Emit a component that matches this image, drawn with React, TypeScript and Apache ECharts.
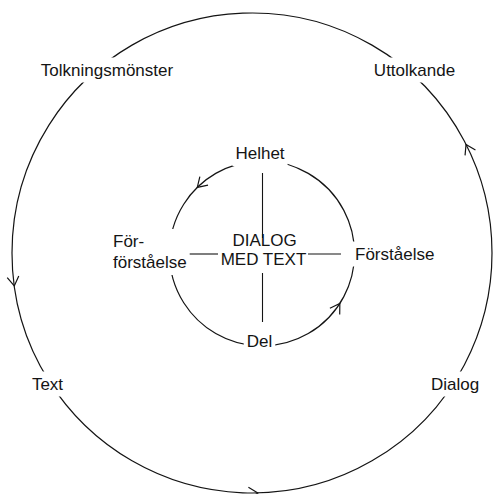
import React, { useEffect, useRef } from "react";
import * as echarts from "echarts";

// ---- data ----
const outerLabels = ["Tolkningsmönster", "Uttolkande", "Dialog", "Text"];
const innerLabels = ["Helhet", "Förståelse", "Del", "För-\nförståelse"];
const centerLabels = ["DIALOG", "MED TEXT"];
const outerArrowAngles = [26.9, 187.9, 271.4];
const innerArrowAngles = [134.4, 327.3];

// ---- layout (not data) ----
const INK = "#141414";
const FONT = "17px 'Liberation Sans', Arial, Helvetica, sans-serif";
const OUTER = { cx: 252, cy: 253, r: 240 };
const INNER = { cx: 262, cy: 253.5, r: 92.5 };
const outerPos = [
  { x: 107, y: 70, align: "center" },
  { x: 414.5, y: 70, align: "center" },
  { x: 455, y: 384, align: "center" },
  { x: 47.5, y: 384, align: "center" },
];
const innerPos = [
  { x: 260, y: 153.5, align: "center" },
  { x: 352, y: 254, align: "left" },
  { x: 259.5, y: 341.5, align: "center" },
  { x: 110, y: 252, align: "left" },
];
const centerPos = [
  { x: 264.5, y: 240 },
  { x: 263.5, y: 259 },
];
const crossLines = [
  [262.5, 173, 262.5, 238],
  [262.5, 273, 262.5, 322],
  [188, 254, 218, 254],
  [308, 254, 341, 254],
];

function arrow(c: { cx: number; cy: number; r: number }, deg: number) {
  const t = (deg * Math.PI) / 180;
  const tipX = c.cx + c.r * Math.cos(t);
  const tipY = c.cy - c.r * Math.sin(t);
  // tangent for increasing angle (screen coords)
  const tx = -Math.sin(t);
  const ty = -Math.cos(t);
  const bx = -tx;
  const by = -ty;
  const len = 11;
  const a = (32 * Math.PI) / 180;
  const rot = (s: number) => [
    tipX + len * (bx * Math.cos(s * a) - by * Math.sin(s * a)),
    tipY + len * (bx * Math.sin(s * a) + by * Math.cos(s * a)),
  ];
  return {
    type: "polyline",
    z: 5,
    shape: { points: [rot(1), [tipX, tipY], rot(-1)] },
    style: { stroke: INK, lineWidth: 1.2, fill: "none" },
  };
}

export default function App() {
  const ref = useRef<HTMLDivElement>(null);
  useEffect(() => {
    const chart = echarts.init(ref.current!, undefined, { renderer: "svg" });
    const elements: any[] = [];
    elements.push({
      type: "circle",
      z: 1,
      shape: { cx: OUTER.cx, cy: OUTER.cy, r: OUTER.r },
      style: { stroke: INK, lineWidth: 1.2, fill: "none" },
    });
    elements.push({
      type: "circle",
      z: 1,
      shape: { cx: INNER.cx, cy: INNER.cy, r: INNER.r },
      style: { stroke: INK, lineWidth: 1.2, fill: "none" },
    });
    crossLines.forEach((l) =>
      elements.push({
        type: "line",
        z: 1,
        shape: { x1: l[0], y1: l[1], x2: l[2], y2: l[3] },
        style: { stroke: INK, lineWidth: 1.1 },
      })
    );
    outerArrowAngles.forEach((d) => elements.push(arrow(OUTER, d)));
    innerArrowAngles.forEach((d) => elements.push(arrow(INNER, d)));
    outerLabels.forEach((t, i) =>
      elements.push({
        type: "text",
        z: 10,
        style: {
          text: t,
          x: outerPos[i].x,
          y: outerPos[i].y,
          font: FONT,
          fill: INK,
          align: outerPos[i].align,
          verticalAlign: "middle",
          backgroundColor: "#fff",
          padding: [4, 3],
        },
      })
    );
    innerLabels.forEach((t, i) =>
      elements.push({
        type: "text",
        z: 10,
        style: {
          text: t,
          x: innerPos[i].x,
          y: innerPos[i].y,
          font: FONT,
          fill: INK,
          align: innerPos[i].align,
          verticalAlign: "middle",
          lineHeight: 21,
          backgroundColor: "#fff",
          padding: [2, 3],
        },
      })
    );
    centerLabels.forEach((t, i) =>
      elements.push({
        type: "text",
        z: 10,
        style: {
          text: t,
          x: centerPos[i].x,
          y: centerPos[i].y,
          font: FONT,
          fill: INK,
          align: "center",
          verticalAlign: "middle",
        },
      })
    );
    chart.setOption({
      animation: false,
      backgroundColor: "#fff",
      graphic: { elements },
    });
    return () => chart.dispose();
  }, []);
  return (
    <div
      ref={ref}
      style={{ position: "fixed", left: 0, top: 0, width: 493, height: 494, background: "#fff" }}
    />
  );
}
